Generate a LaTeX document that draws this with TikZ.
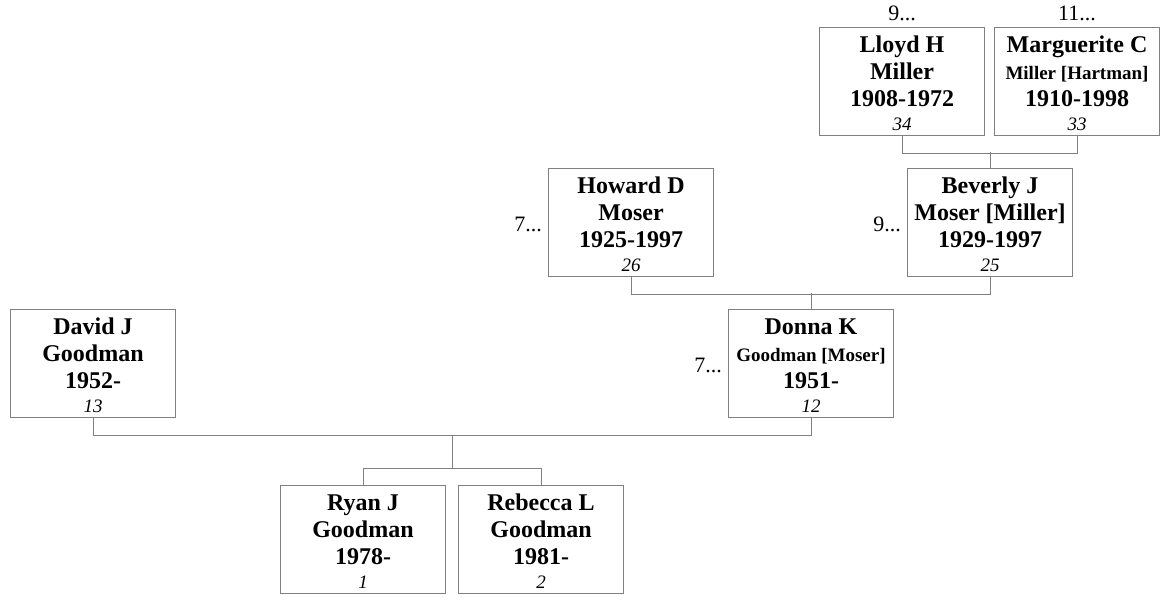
\documentclass[tikz,border=0pt]{standalone}
\usepackage{fontspec}
\setmainfont{Liberation Serif}
\usetikzlibrary{calc}
\definecolor{boxgray}{RGB}{128,128,128}
\tikzset{
  pbox/.style={draw=boxgray, line width=1pt, minimum width=165pt, minimum height=108pt, inner sep=0pt, anchor=north west},
  big/.style={font=\fontsize{24}{24}\selectfont\bfseries, anchor=base, inner sep=0pt},
  small/.style={font=\fontsize{19}{19}\selectfont\bfseries, anchor=base, inner sep=0pt},
  num/.style={font=\fontsize{19}{19}\selectfont\itshape, anchor=base, inner sep=0pt},
  more/.style={font=\fontsize{22}{22}\selectfont, inner sep=0pt},
  link/.style={draw=boxgray, line width=1pt},
}
% #1 name, #2 x, #3 y, #4 line1, #5 style of line2, #6 line2, #7 line3, #8 number
\newcommand\famperson[8]{%
  \node[pbox] (#1) at (#2,#3) {};
  \node[big] (#1-a) at ([yshift=-25pt]#1.north) {#4};
  \node[#5] (#1-b) at ([yshift=-52pt]#1.north) {#6};
  \node[big] (#1-c) at ([yshift=-79pt]#1.north) {#7};
  \node[num] (#1-d) at ([yshift=-103pt]#1.north) {#8};
}
\begin{document}
\begin{tikzpicture}[x=1pt, y=-1pt]
\useasboundingbox (0,0) rectangle (1166,600);
\famperson{lloyd}{819}{27}{Lloyd H}{big}{Miller}{1908-1972}{34}
\famperson{marg}{994}{27}{Marguerite C}{small}{Miller [Hartman]}{1910-1998}{33}
\famperson{howard}{548}{168}{Howard D}{big}{Moser}{1925-1997}{26}
\famperson{beverly}{907}{168}{Beverly J}{big}{Moser [Miller]}{1929-1997}{25}
\famperson{david}{10}{309}{David J}{big}{Goodman}{1952-}{13}
\famperson{donna}{728}{309}{Donna K}{small}{Goodman [Moser]}{1951-}{12}
\famperson{ryan}{280}{485}{Ryan J}{big}{Goodman}{1978-}{1}
\famperson{rebecca}{458}{485}{Rebecca L}{big}{Goodman}{1981-}{2}

\node[more, anchor=base] (lloyd-more) at ([yshift=7pt]lloyd.north) {9...};
\node[more, anchor=base] (marg-more) at ([yshift=7pt]marg.north) {11...};
\node[more, anchor=base east] (howard-more) at ([xshift=-6pt,yshift=-63pt]howard.north west) {7...};
\node[more, anchor=base east] (beverly-more) at ([xshift=-6pt,yshift=-63pt]beverly.north west) {9...};
\node[more, anchor=base east] (donna-more) at ([xshift=-6pt,yshift=-63pt]donna.north west) {7...};

% couples and children
\draw[link] (lloyd.south) -- ++(0,17) -| (marg.south);
\draw[link] (beverly.north) -- ++(0,-16);
\draw[link] (howard.south) -- ++(0,17) -| (beverly.south);
\draw[link] (donna.north) -- ++(0,-16);
\draw[link] (david.south) -- ++(0,17) -| (donna.south);
\coordinate (kids) at ($(ryan.north)!0.5!(rebecca.north)+(0,-17)$);
\draw[link] (ryan.north) -- ++(0,-17) -| (rebecca.north);
\draw[link] (kids) -- ++(0,-33);
\end{tikzpicture}
\end{document}
